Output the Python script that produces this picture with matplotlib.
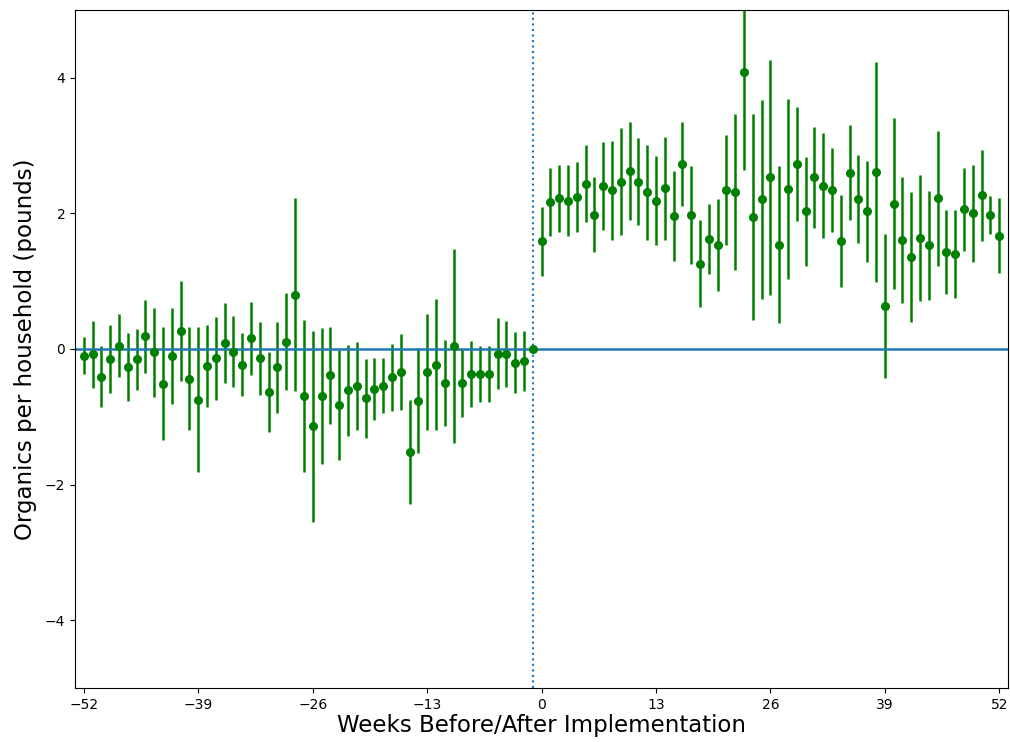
import numpy as np
import matplotlib
matplotlib.use("Agg")
import matplotlib.pyplot as plt

weeks_pre = list(range(-52, 0))
vals_pre = [-0.10, -0.08, -0.41, -0.15, 0.05, -0.27, -0.15, 0.19, -0.05, -0.51,
            -0.10, 0.27, -0.44, -0.75, -0.25, -0.14, 0.09, -0.04, -0.23, 0.16,
            -0.14, -0.63, -0.27, 0.11, 0.80, -0.69, -1.14, -0.69, -0.39, -0.82,
            -0.61, -0.54, -0.73, -0.59, -0.54, -0.42, -0.34, -1.52, -0.76, -0.34,
            -0.23, -0.50, 0.05, -0.50, -0.37, -0.37, -0.37, -0.07, -0.07, -0.20,
            -0.18, 0.00]
err_pre = [0.27, 0.50, 0.45, 0.50, 0.47, 0.50, 0.45, 0.54, 0.66, 0.83,
           0.71, 0.74, 0.76, 1.07, 0.61, 0.61, 0.59, 0.52, 0.47, 0.54,
           0.54, 0.59, 0.67, 0.72, 1.42, 1.12, 1.41, 1.00, 0.72, 0.81,
           0.67, 0.65, 0.58, 0.45, 0.41, 0.49, 0.56, 0.77, 0.78, 0.86,
           0.97, 0.64, 1.43, 0.50, 0.49, 0.41, 0.41, 0.52, 0.49, 0.45,
           0.44, 0.00]

weeks_post = list(range(0, 53))
vals_post = [1.59, 2.17, 2.22, 2.19, 2.24, 2.44, 1.98, 2.41, 2.34, 2.47,
             2.63, 2.47, 2.31, 2.19, 2.37, 1.96, 2.73, 1.98, 1.26, 1.62,
             1.53, 2.34, 2.32, 4.08, 1.95, 2.21, 2.53, 1.54, 2.36, 2.73,
             2.03, 2.53, 2.41, 2.34, 1.59, 2.60, 2.21, 2.03, 2.61, 0.63,
             2.14, 1.61, 1.36, 1.64, 1.53, 2.22, 1.43, 1.40, 2.06, 2.00,
             2.27, 1.98, 1.67]
err_post = [0.51, 0.50, 0.50, 0.53, 0.52, 0.57, 0.55, 0.65, 0.73, 0.79,
            0.72, 0.64, 0.70, 0.66, 0.76, 0.66, 0.62, 0.72, 0.64, 0.52,
            0.68, 0.81, 1.15, 1.44, 1.52, 1.47, 1.74, 1.16, 1.33, 0.84,
            0.80, 0.75, 0.78, 0.62, 0.68, 0.70, 0.65, 0.74, 1.62, 1.06,
            1.26, 0.93, 0.96, 0.93, 0.80, 0.99, 0.62, 0.65, 0.61, 0.71,
            0.67, 0.28, 0.55]

weeks = weeks_pre + weeks_post
vals = vals_pre + vals_post
errs = err_pre + err_post

xticks = [-52, -39, -26, -13, 0, 13, 26, 39, 52]
yticks = [-4, -2, 0, 2, 4]

fig = plt.figure(figsize=(10.10, 7.42), dpi=100)
ax = fig.add_axes([0.0743, 0.0728, 0.9238, 0.9137])

ax.errorbar(weeks, vals, yerr=errs, fmt='o', color='green', ms=5.5,
            elinewidth=1.8, capsize=0)
ax.axhline(0, color='C0', linewidth=1.8)
ax.axvline(-1, color='C0', linestyle=':', linewidth=1.5)

ax.set_xlim(-53, 53)
ax.set_ylim(-5, 5)
ax.set_xticks(xticks)
ax.set_yticks(yticks)
ax.tick_params(labelsize=10)
ax.set_xlabel('Weeks Before/After Implementation', fontsize=16.5, labelpad=2)
ax.set_ylabel('Organics per household (pounds)', fontsize=16.5, labelpad=6)

fig.savefig('out.png', dpi=100)
